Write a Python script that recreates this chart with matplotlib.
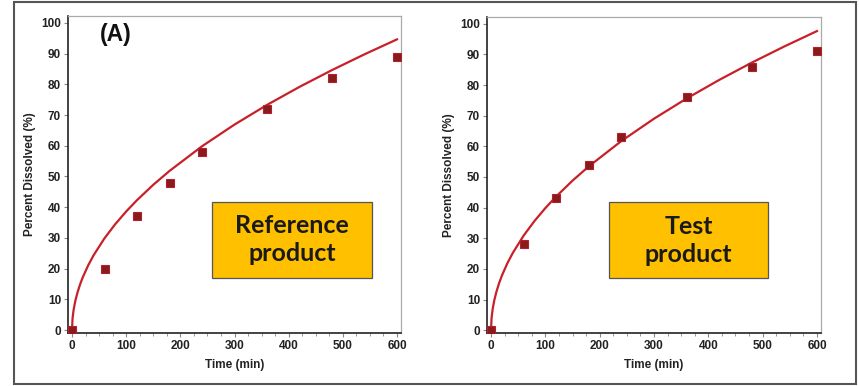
import numpy as np
import matplotlib
matplotlib.use('Agg')
import matplotlib.pyplot as plt
from matplotlib.patches import Rectangle
from matplotlib.ticker import MultipleLocator

# sampling times (min) and measured percent dissolved
time_pts = [0, 60, 120, 180, 240, 360, 480, 600]
ref_pts = [0, 20, 37, 48, 58, 72, 82, 89]
test_pts = [0, 28, 43, 54, 63, 76, 86, 91]

# fitted curve, values
curve_t = [0, 1, 3, 6, 10, 15, 20, 30, 40, 60, 80, 100, 120, 150, 180,
           240, 300, 360, 420, 480, 540, 600]
ref_curve = [0, 3.86, 6.69, 9.46, 12.21, 14.96, 17.27, 21.15, 24.43, 29.91,
             34.54, 38.62, 42.31, 47.30, 51.81, 59.83, 66.89, 73.28, 79.15,
             84.61, 89.74, 94.60]
test_curve = [0, 3.99, 6.90, 9.76, 12.60, 15.43, 17.82, 21.83, 25.20, 30.87,
              35.64, 39.85, 43.65, 48.81, 53.47, 61.74, 69.02, 75.61, 81.67,
              87.31, 92.60, 97.61]

labels = ['Reference\nproduct', 'Test\nproduct']
box_x = [(258, 554), (217, 510)]

fig = plt.figure(figsize=(8.59, 3.86), dpi=100)
W, H = 859, 386

# outer frame
fig.patches.append(Rectangle((14 / W, 2 / H), 842 / W, 382 / H,
                             transform=fig.transFigure, fill=False,
                             edgecolor='#555555', lw=1.5))

axes_px = [(68, 401, 16, 333), (487, 821, 17, 333)]
tick_font = dict(family='Liberation Sans', weight='bold', size=8.5)

for i, (pts, curve) in enumerate([(ref_pts, ref_curve), (test_pts, test_curve)]):
    x0, x1, yt, yb = axes_px[i]
    ax = fig.add_axes([x0 / W, (H - yb) / H, (x1 - x0) / W, (yb - yt) / H])
    ax.plot(curve_t, curve, color='#c8202a', lw=1.6, zorder=2)
    ax.plot(time_pts, pts, ls='none', marker='s', ms=5.5, color='#8b1a1a',
            mec='#b02030', mew=0.8, zorder=3)
    ax.set_xlim(-7.4, 607.4)
    ax.set_ylim(-0.9, 102.2)
    ax.xaxis.set_major_locator(MultipleLocator(100))
    ax.xaxis.set_minor_locator(MultipleLocator(25))
    ax.yaxis.set_major_locator(MultipleLocator(10))
    ax.tick_params(which='major', length=3, width=0.8, color='#888888', pad=2)
    ax.tick_params(which='minor', length=2, width=0.6, color='#888888')
    for lab in ax.get_xticklabels() + ax.get_yticklabels():
        lab.set_fontproperties(tick_font)
        lab.set_color('#222222')
    for s in ['left', 'bottom']:
        ax.spines[s].set_color('#222222')
        ax.spines[s].set_linewidth(1.2)
    for s in ['top', 'right']:
        ax.spines[s].set_color('#aaaaaa')
        ax.spines[s].set_linewidth(0.9)
    ax.set_xlabel('Time (min)', fontfamily='Liberation Sans', fontweight='bold',
                  fontsize=8.5, color='#222222', labelpad=5)
    ax.set_ylabel('Percent Dissolved (%)', fontfamily='Liberation Sans',
                  fontweight='bold', fontsize=8.5, color='#222222', labelpad=4)

    bx0, bx1 = box_x[i]
    ax.add_patch(Rectangle((bx0, 17.0), bx1 - bx0, 24.7, facecolor='#ffc000',
                           edgecolor='#555555', lw=0.9, zorder=4))
    ax.text((bx0 + bx1) / 2, 29.4, labels[i], ha='center', va='center',
            fontfamily='Lato', fontweight='bold', fontsize=18,
            color='#1a1a1a', linespacing=1.25, zorder=5)

fig.text(116 / W, (H - 35) / H, '(A)', ha='center', va='center',
         fontfamily='Liberation Sans', fontweight='bold', fontsize=16.5,
         color='#111111')

fig.savefig('out.png', dpi=100)
